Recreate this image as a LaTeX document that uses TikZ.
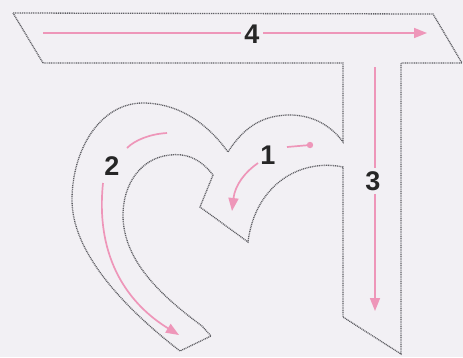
\documentclass[tikz,border=0pt]{standalone}
\usepackage{fontspec}
\setmainfont{Liberation Sans}
\usetikzlibrary{arrows.meta}
\definecolor{bg}{RGB}{242,240,244}
\definecolor{pinkarrow}{RGB}{238,150,185}
\definecolor{outline}{RGB}{95,95,100}
\tikzset{
  letteroutline/.style={draw=outline, line width=1.3pt, dash pattern=on 1pt off 0.8pt},
  strokearrow/.style={draw=pinkarrow, line width=1.7pt, -{Triangle[length=13pt,width=10pt]}},
  strokeline/.style={draw=pinkarrow, line width=1.7pt},
  numlabel/.style={font=\bfseries\fontsize{27}{27}\selectfont, text=black!85, fill=bg, inner sep=3pt}
}
\begin{document}
\begin{tikzpicture}[x=1pt,y=-1pt]
\fill[bg] (0,0) rectangle (463,357);
\useasboundingbox (0,0) rectangle (463,357);
% letter outline
\draw[letteroutline] (13,13) -- (433,14) -- (462,63) -- (401,63) -- (401,354) -- (343,317) -- (343,167)
  .. controls (300,158) and (255,185) .. (248,242) -- (200,207) -- (213,175)
  .. controls (200,158) and (185,153) .. (170,155)
  .. controls (140,158) and (123,185) .. (123,215)
  .. controls (123,260) and (160,295) .. (202,326)
  -- (211,336) -- (180,351)
  .. controls (140,320) and (72,260) .. (72,200)
  .. controls (72,150) and (100,103) .. (143,103)
  .. controls (175,103) and (205,120) .. (228,152)
  .. controls (245,125) and (265,115) .. (290,115)
  .. controls (315,115) and (333,128) .. (343,142)
  -- (343,63) -- (43,63) -- cycle;
% stroke 4
\coordinate (s4a) at (43,33);
\coordinate (s4b) at (427,33);
\draw[strokearrow] (s4a) -- (s4b);
\node[numlabel] (n4) at (252,34) {4};
% stroke 3
\coordinate (s3a) at (375,67);
\coordinate (s3b) at (375,311);
\draw[strokearrow] (s3a) -- (s3b);
\node[numlabel] (n3) at (373,181) {3};
% stroke 1
\coordinate (s1dot) at (310,145);
\coordinate (s1e) at (287,147);
\draw[strokeline] (s1dot) -- (s1e);
\fill[pinkarrow] (s1dot) circle (3.2pt);
\node[numlabel, fill=none] (n1) at (268,155) {1};
\coordinate (s1a) at (258,163);
\coordinate (s1b) at (232,211);
\draw[strokearrow] (s1a) .. controls (245,172) and (235,185) .. (s1b);
% stroke 2
\coordinate (s2a) at (167,133);
\coordinate (s2b) at (127,148);
\draw[strokeline] (s2a) .. controls (150,134) and (135,140) .. (s2b);
\node[numlabel, fill=none] (n2) at (112,166) {2};
\coordinate (s2c) at (103,183);
\coordinate (s2d) at (179,335);
\draw[strokearrow] (s2c) .. controls (95,260) and (130,305) .. (s2d);
\end{tikzpicture}
\end{document}
